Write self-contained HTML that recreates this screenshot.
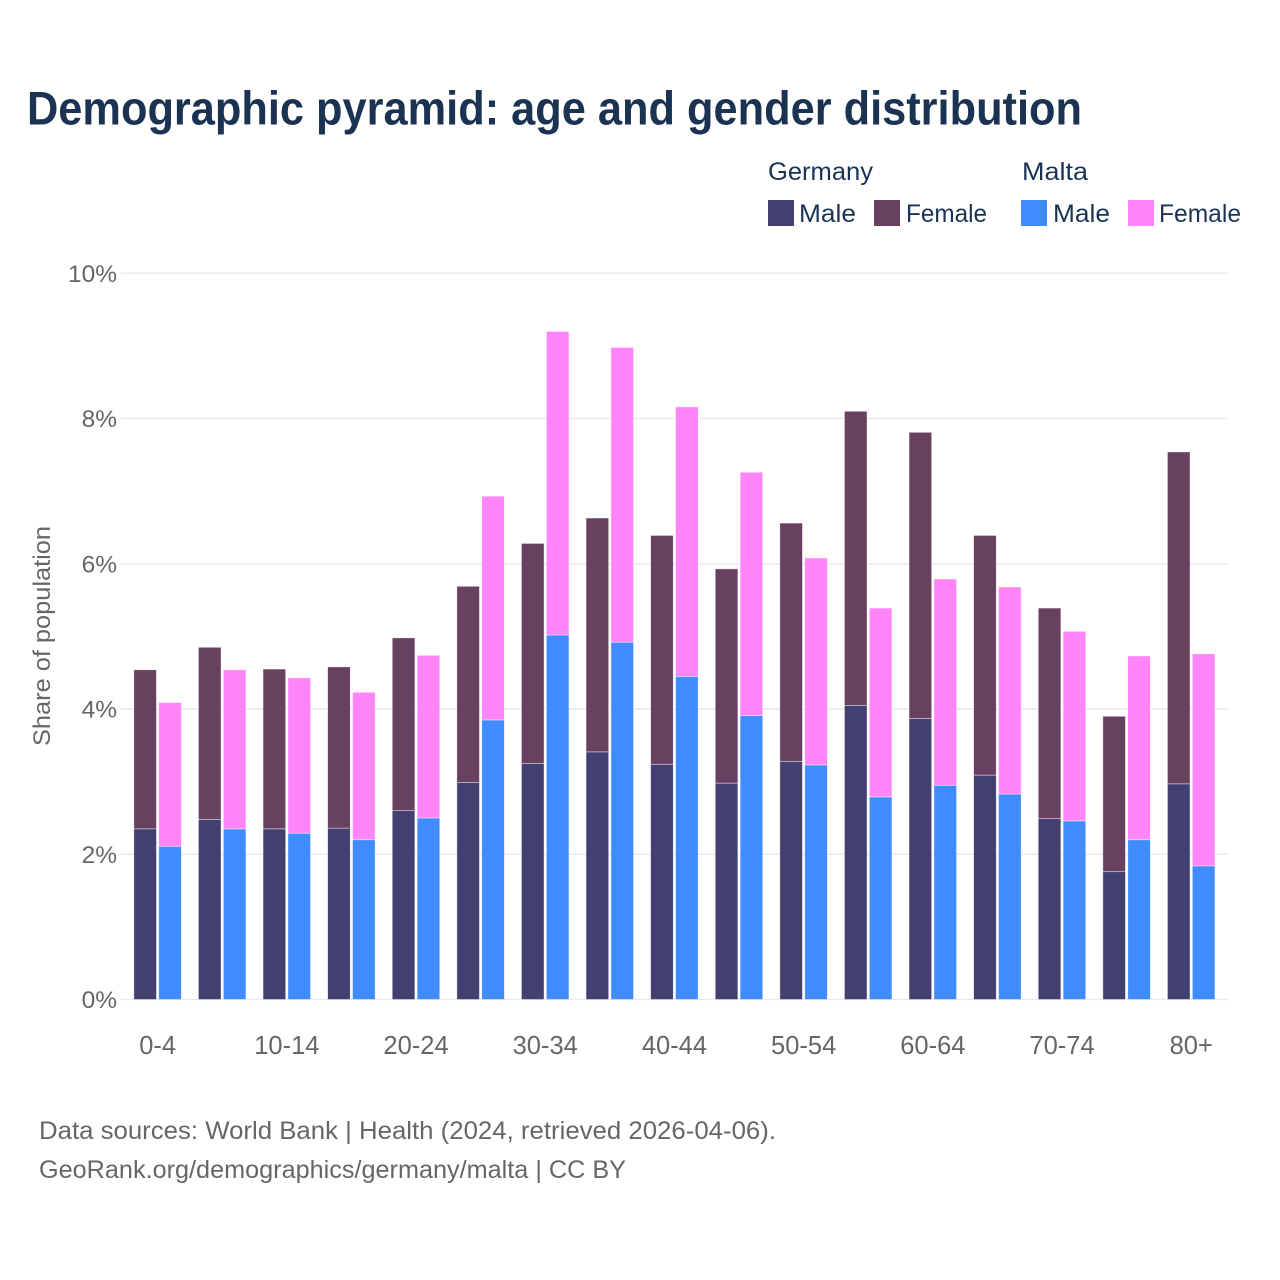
<!DOCTYPE html>
<html lang="en">
<head>
<meta charset="utf-8">
<title>Demographic pyramid</title>
<style>
html,body{margin:0;padding:0;background:#fff;}
svg{display:block;font-family:"Liberation Sans",sans-serif;}
</style>
</head>
<body>
<svg id="chart" width="1280" height="1280" viewBox="0 0 1280 1280" xmlns="http://www.w3.org/2000/svg">
  <rect x="0" y="0" width="1280" height="1280" fill="#ffffff"/>
  <text x="27" y="124.5" font-size="47" font-weight="700" fill="#1a3353" textLength="1055" lengthAdjust="spacingAndGlyphs">Demographic pyramid: age and gender distribution</text>

  <g font-size="25" fill="#1a3353">
    <text x="768" y="180" textLength="105" lengthAdjust="spacingAndGlyphs">Germany</text>
    <text x="1022" y="180" textLength="66" lengthAdjust="spacingAndGlyphs">Malta</text>
    <rect x="768" y="200" width="26" height="26" fill="#433f70"/>
    <text x="799" y="222" textLength="57" lengthAdjust="spacingAndGlyphs">Male</text>
    <rect x="874" y="200" width="26" height="26" fill="#684060"/>
    <text x="906" y="222" textLength="81" lengthAdjust="spacingAndGlyphs">Female</text>
    <rect x="1021" y="200" width="26" height="26" fill="#408cff"/>
    <text x="1053" y="222" textLength="57" lengthAdjust="spacingAndGlyphs">Male</text>
    <rect x="1128" y="200" width="26" height="26" fill="#ff85f8"/>
    <text x="1159" y="222" textLength="82" lengthAdjust="spacingAndGlyphs">Female</text>
  </g>

  <g id="grid"></g>
  <g id="yticks"></g>
  <g id="bars"></g>
  <g id="xticks"></g>

  <text transform="translate(50,746) rotate(-90)" x="0" y="0" font-size="24" fill="#666666" textLength="220" lengthAdjust="spacingAndGlyphs">Share of population</text>

  <text x="39" y="1139" font-size="25" fill="#666666" textLength="737" lengthAdjust="spacingAndGlyphs">Data sources: World Bank | Health (2024, retrieved 2026-04-06).</text>
  <text x="39" y="1178" font-size="25" fill="#666666" textLength="587" lengthAdjust="spacingAndGlyphs">GeoRank.org/demographics/germany/malta | CC BY</text>
</svg>
<script>
var ageGroups = ["0-4","5-9","10-14","15-19","20-24","25-29","30-34","35-39","40-44","45-49","50-54","55-59","60-64","65-69","70-74","75-79","80+"];
var shownAgeLabels = ["0-4","","10-14","","20-24","","30-34","","40-44","","50-54","","60-64","","70-74","","80+"];
var germanyMale = [2.35,2.48,2.35,2.36,2.60,2.99,3.25,3.41,3.24,2.98,3.28,4.05,3.87,3.09,2.49,1.76,2.97];
var germanyFemale = [2.19,2.37,2.20,2.22,2.38,2.70,3.03,3.22,3.15,2.95,3.28,4.05,3.94,3.30,2.90,2.14,4.57];
var maltaMale = [2.11,2.35,2.29,2.20,2.50,3.85,5.02,4.92,4.45,3.91,3.23,2.79,2.95,2.83,2.46,2.20,1.84];
var maltaFemale = [1.98,2.19,2.14,2.03,2.24,3.08,4.18,4.06,3.71,3.35,2.85,2.60,2.84,2.85,2.61,2.53,2.92];
var yTickValues = [0,2,4,6,8,10];
var yTickLabels = ["0%","2%","4%","6%","8%","10%"];

var SVGNS = "http://www.w3.org/2000/svg";
function yScale(v){ return 999.5 - v * 72.62; }
function bandStart(i){ return 125.35 + i * 64.6; }
var BAR_W = 22.6;
var GER_OFF = 8.5;
var MAL_OFF = 33.4;

function make(tag, parent, attrs){
  var el = document.createElementNS(SVGNS, tag);
  for (var k in attrs){ el.setAttribute(k, attrs[k]); }
  parent.appendChild(el);
  return el;
}

var grid = document.getElementById("grid");
var yticks = document.getElementById("yticks");
yTickValues.forEach(function(v, i){
  var line = make("line", grid, {x1:121, x2:1228, y1:yScale(v), y2:yScale(v), stroke:"#e9e9ee", "stroke-width":1.5});
  
  
  var t = make("text", yticks, {x:117, y:yScale(v)+8.5, "text-anchor":"end", "font-size":24.5, fill:"#666666"});
  t.textContent = yTickLabels[i];
  
  
});

function drawStack(i, offset, male, female, maleColor, femaleColor){
  var x = bandStart(i) + offset;
  var bars = document.getElementById("bars");
  var m = make("rect", bars, {x:x, y:yScale(male), width:BAR_W, height:yScale(0)-yScale(male), fill:maleColor, stroke:"rgba(255,255,255,0.6)", "stroke-width":0.7});
  
  
  var f = make("rect", bars, {x:x, y:yScale(male+female), width:BAR_W, height:yScale(male)-yScale(male+female), fill:femaleColor, stroke:"rgba(255,255,255,0.6)", "stroke-width":0.7});
  
  
}

var xticks = document.getElementById("xticks");
ageGroups.forEach(function(g, i){
  drawStack(i, GER_OFF, germanyMale[i], germanyFemale[i], "#433f70", "#684060");
  drawStack(i, MAL_OFF, maltaMale[i], maltaFemale[i], "#408cff", "#ff85f8");
  if (shownAgeLabels[i]) {
    var t = make("text", xticks, {x:bandStart(i)+32.3, y:1054, "text-anchor":"middle", "font-size":25.5, fill:"#666666"});
    t.textContent = shownAgeLabels[i];
    
    
  }
});
</script>
</body>
</html>
